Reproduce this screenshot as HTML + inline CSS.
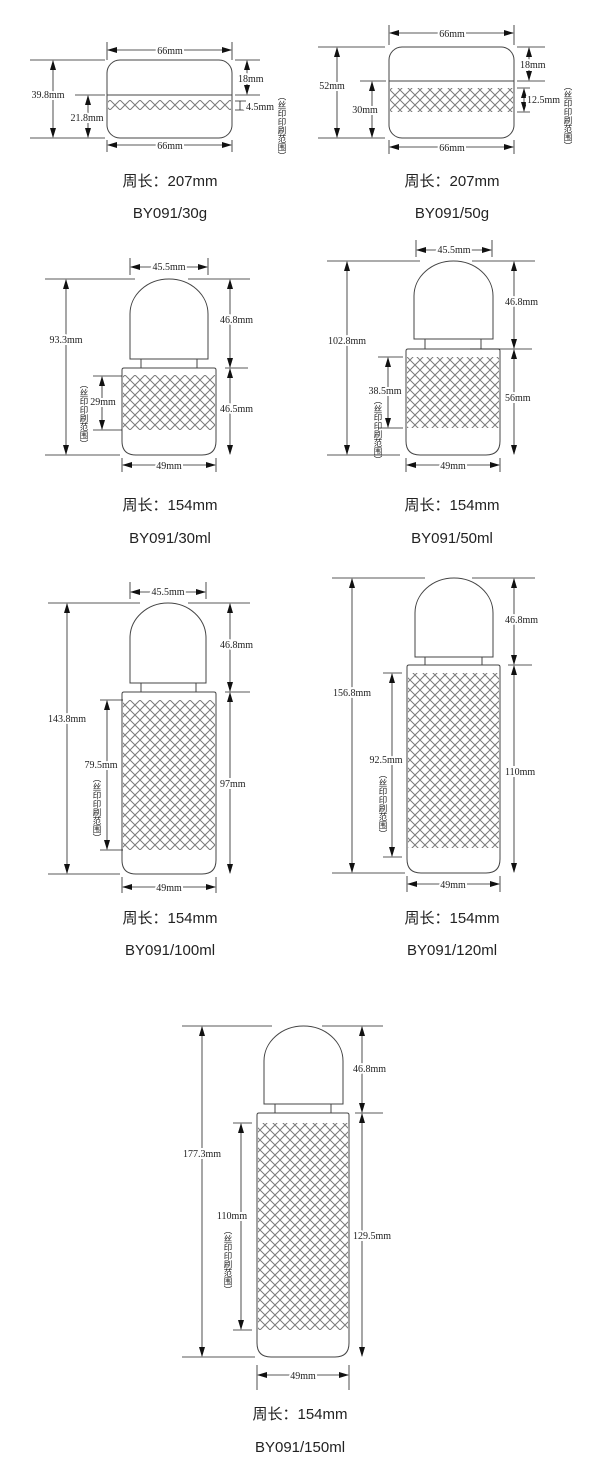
<!DOCTYPE html>
<html><head><meta charset="utf-8"><style>
html,body{margin:0;padding:0;background:#fff}
svg{display:block}
.d{font-family:"Liberation Serif","Noto Serif CJK SC",serif;font-size:10px;fill:#222;stroke:#fff;stroke-width:4px;paint-order:stroke;}
.v{font-family:"Noto Sans CJK SC",sans-serif;font-size:8.5px;fill:#222;writing-mode:vertical-rl;text-orientation:upright}
.t{font-family:"Liberation Sans","Noto Sans CJK SC",sans-serif;font-size:15px;fill:#222;text-anchor:middle}
.l{stroke:#222;stroke-width:0.8;fill:none}
.s{stroke:#444;stroke-width:1;fill:none}
</style></head><body>
<svg width="600" height="1474" viewBox="0 0 600 1474" xmlns="http://www.w3.org/2000/svg">
<defs>
<marker id="a" markerUnits="userSpaceOnUse" markerWidth="10" markerHeight="8" refX="9" refY="3" orient="auto-start-reverse" viewBox="0 0 10 6"><path d="M0,0 L10,3 L0,6 Z" fill="#111"/></marker>
<pattern id="h" patternUnits="userSpaceOnUse" width="10" height="10"><path d="M0,0 L10,10 M10,0 L0,10" stroke="#7a7a7a" stroke-width="1"/></pattern>
</defs>

<!-- ===== 30g ===== -->
<g>
<rect x="107" y="60" width="125" height="78" rx="13" class="s"/>
<line x1="107" y1="95" x2="232" y2="95" class="s"/>
<rect x="108" y="100" width="123" height="10" fill="url(#h)"/>
<path class="l" d="M107,42V60 M232,42V60 M107,140V152 M232,140V152 M30,60H105 M30,138H105 M75,95H105 M235,60H260 M235,95H260 M235,101H246 M235,110H246 M240,101V110"/>
<line x1="108" y1="50" x2="231" y2="50" class="l" marker-start="url(#a)" marker-end="url(#a)"/>
<line x1="108" y1="145" x2="231" y2="145" class="l" marker-start="url(#a)" marker-end="url(#a)"/>
<line x1="53" y1="61" x2="53" y2="137" class="l" marker-start="url(#a)" marker-end="url(#a)"/>
<line x1="88" y1="96" x2="88" y2="137" class="l" marker-start="url(#a)" marker-end="url(#a)"/>
<line x1="247" y1="61" x2="247" y2="94" class="l" marker-start="url(#a)" marker-end="url(#a)"/>
<text class="d" x="170" y="54" text-anchor="middle">66mm</text>
<text class="d" x="170" y="149" text-anchor="middle">66mm</text>
<text class="d" x="48" y="98" text-anchor="middle">39.8mm</text>
<text class="d" x="87" y="121" text-anchor="middle">21.8mm</text>
<text class="d" x="238" y="82">18mm</text>
<text class="d" x="246" y="110">4.5mm</text>
<text class="v" x="282" y="92">（丝印印刷范围）</text>
<text class="t" x="170" y="186">周长：207mm</text>
<text class="t" x="170" y="218">BY091/30g</text>
</g>

<!-- ===== 50g ===== -->
<g>
<rect x="389" y="47" width="125" height="91" rx="13" class="s"/>
<line x1="389" y1="81" x2="514" y2="81" class="s"/>
<rect x="390" y="88" width="123" height="24" fill="url(#h)"/>
<path class="l" d="M389,25V45 M514,25V45 M389,140V154 M514,140V154 M318,47H385 M318,138H385 M360,81H386 M517,47H545 M517,81H545 M517,88H530 M517,112H530"/>
<line x1="390" y1="33" x2="513" y2="33" class="l" marker-start="url(#a)" marker-end="url(#a)"/>
<line x1="390" y1="147" x2="513" y2="147" class="l" marker-start="url(#a)" marker-end="url(#a)"/>
<line x1="337" y1="48" x2="337" y2="137" class="l" marker-start="url(#a)" marker-end="url(#a)"/>
<line x1="372" y1="82" x2="372" y2="137" class="l" marker-start="url(#a)" marker-end="url(#a)"/>
<line x1="529" y1="48" x2="529" y2="80" class="l" marker-start="url(#a)" marker-end="url(#a)"/>
<line x1="524" y1="89" x2="524" y2="111" class="l" marker-start="url(#a)" marker-end="url(#a)"/>
<text class="d" x="452" y="37" text-anchor="middle">66mm</text>
<text class="d" x="452" y="151" text-anchor="middle">66mm</text>
<text class="d" x="332" y="89" text-anchor="middle">52mm</text>
<text class="d" x="365" y="113" text-anchor="middle">30mm</text>
<text class="d" x="520" y="68">18mm</text>
<text class="d" x="527" y="103">12.5mm</text>
<text class="v" x="568" y="82">（丝印印刷范围）</text>
<text class="t" x="452" y="186">周长：207mm</text>
<text class="t" x="452" y="218">BY091/50g</text>
</g>

<!-- ===== 30ml ===== -->
<g>
<path class="s" d="M130,359V314A39,35 0 0 1 208,314V359Z"/>
<rect x="141" y="359" width="56" height="9" class="s"/>
<rect x="123" y="375" width="92" height="55" fill="url(#h)"/>
<path class="s" d="M124,368H214Q216,368 216,370V441Q216,455 202,455H136Q122,455 122,441V370Q122,368 124,368Z"/>
<path class="l" d="M130,258V275 M208,258V275 M45,279H135 M45,455H120 M188,279H250 M225,368H248 M93,376H122 M93,430H122 M122,458V472 M216,458V472"/>
<line x1="131" y1="267" x2="207" y2="267" class="l" marker-start="url(#a)" marker-end="url(#a)"/>
<line x1="66" y1="280" x2="66" y2="454" class="l" marker-start="url(#a)" marker-end="url(#a)"/>
<line x1="230" y1="280" x2="230" y2="367" class="l" marker-start="url(#a)" marker-end="url(#a)"/>
<line x1="230" y1="369" x2="230" y2="454" class="l" marker-start="url(#a)" marker-end="url(#a)"/>
<line x1="102" y1="377" x2="102" y2="429" class="l" marker-start="url(#a)" marker-end="url(#a)"/>
<line x1="123" y1="465" x2="215" y2="465" class="l" marker-start="url(#a)" marker-end="url(#a)"/>
<text class="d" x="169" y="270" text-anchor="middle">45.5mm</text>
<text class="d" x="66" y="343" text-anchor="middle">93.3mm</text>
<text class="d" x="220" y="323">46.8mm</text>
<text class="d" x="220" y="412">46.5mm</text>
<text class="d" x="103" y="405" text-anchor="middle">29mm</text>
<text class="d" x="169" y="469" text-anchor="middle">49mm</text>
<text class="v" x="84" y="380">（丝印印刷范围）</text>
<text class="t" x="170" y="510">周长：154mm</text>
<text class="t" x="170" y="543">BY091/30ml</text>
</g>

<!-- ===== 50ml ===== -->
<g>
<path class="s" d="M414,339V296A39.5,35 0 0 1 493,296V339Z"/>
<rect x="425" y="339" width="56" height="10" class="s"/>
<rect x="407" y="357" width="92" height="71" fill="url(#h)"/>
<path class="s" d="M408,349H498Q500,349 500,351V441Q500,455 486,455H420Q406,455 406,441V351Q406,349 408,349Z"/>
<path class="l" d="M416,240V257 M492,240V257 M327,261H420 M327,455H400 M472,261H535 M470,349H532 M378,357H403 M378,428H403 M406,458V472 M500,458V472"/>
<line x1="417" y1="250" x2="491" y2="250" class="l" marker-start="url(#a)" marker-end="url(#a)"/>
<line x1="347" y1="262" x2="347" y2="454" class="l" marker-start="url(#a)" marker-end="url(#a)"/>
<line x1="514" y1="262" x2="514" y2="348" class="l" marker-start="url(#a)" marker-end="url(#a)"/>
<line x1="514" y1="350" x2="514" y2="454" class="l" marker-start="url(#a)" marker-end="url(#a)"/>
<line x1="388" y1="358" x2="388" y2="427" class="l" marker-start="url(#a)" marker-end="url(#a)"/>
<line x1="407" y1="465" x2="499" y2="465" class="l" marker-start="url(#a)" marker-end="url(#a)"/>
<text class="d" x="454" y="253" text-anchor="middle">45.5mm</text>
<text class="d" x="347" y="344" text-anchor="middle">102.8mm</text>
<text class="d" x="505" y="305">46.8mm</text>
<text class="d" x="505" y="401">56mm</text>
<text class="d" x="385" y="394" text-anchor="middle">38.5mm</text>
<text class="d" x="453" y="469" text-anchor="middle">49mm</text>
<text class="v" x="378" y="396">（丝印印刷范围）</text>
<text class="t" x="452" y="510">周长：154mm</text>
<text class="t" x="452" y="543">BY091/50ml</text>
</g>

<!-- ===== 100ml ===== -->
<g>
<path class="s" d="M130,683V638A38,35 0 0 1 206,638V683Z"/>
<rect x="141" y="683" width="55" height="9" class="s"/>
<rect x="123" y="700" width="92" height="150" fill="url(#h)"/>
<path class="s" d="M124,692H214Q216,692 216,694V860Q216,874 202,874H136Q122,874 122,860V694Q122,692 124,692Z"/>
<path class="l" d="M130,582V599 M206,582V599 M48,603H140 M48,874H120 M188,603H250 M225,692H250 M100,700H123 M100,850H123 M122,877V893 M216,877V893"/>
<line x1="131" y1="592" x2="205" y2="592" class="l" marker-start="url(#a)" marker-end="url(#a)"/>
<line x1="67" y1="604" x2="67" y2="873" class="l" marker-start="url(#a)" marker-end="url(#a)"/>
<line x1="230" y1="604" x2="230" y2="691" class="l" marker-start="url(#a)" marker-end="url(#a)"/>
<line x1="230" y1="693" x2="230" y2="873" class="l" marker-start="url(#a)" marker-end="url(#a)"/>
<line x1="107" y1="701" x2="107" y2="849" class="l" marker-start="url(#a)" marker-end="url(#a)"/>
<line x1="123" y1="887" x2="215" y2="887" class="l" marker-start="url(#a)" marker-end="url(#a)"/>
<text class="d" x="168" y="595" text-anchor="middle">45.5mm</text>
<text class="d" x="67" y="722" text-anchor="middle">143.8mm</text>
<text class="d" x="220" y="648">46.8mm</text>
<text class="d" x="220" y="787">97mm</text>
<text class="d" x="101" y="768" text-anchor="middle">79.5mm</text>
<text class="d" x="169" y="891" text-anchor="middle">49mm</text>
<text class="v" x="97" y="774">（丝印印刷范围）</text>
<text class="t" x="170" y="923">周长：154mm</text>
<text class="t" x="170" y="955">BY091/100ml</text>
</g>

<!-- ===== 120ml ===== -->
<g>
<path class="s" d="M415,657V613A39,35 0 0 1 493,613V657Z"/>
<rect x="425" y="657" width="57" height="8" class="s"/>
<rect x="408" y="673" width="91" height="175" fill="url(#h)"/>
<path class="s" d="M409,665H498Q500,665 500,667V859Q500,873 486,873H421Q407,873 407,859V667Q407,665 409,665Z"/>
<path class="l" d="M332,578H425 M332,873H405 M472,578H535 M508,665H532 M383,673H402 M383,857H402 M407,876V892 M500,876V892"/>
<line x1="352" y1="579" x2="352" y2="872" class="l" marker-start="url(#a)" marker-end="url(#a)"/>
<line x1="514" y1="579" x2="514" y2="664" class="l" marker-start="url(#a)" marker-end="url(#a)"/>
<line x1="514" y1="666" x2="514" y2="872" class="l" marker-start="url(#a)" marker-end="url(#a)"/>
<line x1="392" y1="674" x2="392" y2="856" class="l" marker-start="url(#a)" marker-end="url(#a)"/>
<line x1="408" y1="884" x2="499" y2="884" class="l" marker-start="url(#a)" marker-end="url(#a)"/>
<text class="d" x="352" y="696" text-anchor="middle">156.8mm</text>
<text class="d" x="505" y="623">46.8mm</text>
<text class="d" x="505" y="775">110mm</text>
<text class="d" x="386" y="763" text-anchor="middle">92.5mm</text>
<text class="d" x="453" y="888" text-anchor="middle">49mm</text>
<text class="v" x="383" y="770">（丝印印刷范围）</text>
<text class="t" x="452" y="923">周长：154mm</text>
<text class="t" x="452" y="955">BY091/120ml</text>
</g>

<!-- ===== 150ml ===== -->
<g>
<path class="s" d="M264,1104V1061A39.5,35 0 0 1 343,1061V1104Z"/>
<rect x="275" y="1104" width="56" height="9" class="s"/>
<rect x="258" y="1123" width="90" height="207" fill="url(#h)"/>
<path class="s" d="M259,1113H347Q349,1113 349,1115V1343Q349,1357 335,1357H271Q257,1357 257,1343V1115Q257,1113 259,1113Z"/>
<path class="l" d="M182,1026H272 M182,1357H255 M322,1026H383 M355,1113H383 M233,1123H252 M233,1330H252 M257,1365V1390 M349,1365V1390"/>
<line x1="202" y1="1027" x2="202" y2="1356" class="l" marker-start="url(#a)" marker-end="url(#a)"/>
<line x1="362" y1="1027" x2="362" y2="1112" class="l" marker-start="url(#a)" marker-end="url(#a)"/>
<line x1="362" y1="1114" x2="362" y2="1356" class="l" marker-start="url(#a)" marker-end="url(#a)"/>
<line x1="241" y1="1124" x2="241" y2="1329" class="l" marker-start="url(#a)" marker-end="url(#a)"/>
<line x1="258" y1="1375" x2="348" y2="1375" class="l" marker-start="url(#a)" marker-end="url(#a)"/>
<text class="d" x="202" y="1157" text-anchor="middle">177.3mm</text>
<text class="d" x="353" y="1072">46.8mm</text>
<text class="d" x="353" y="1239">129.5mm</text>
<text class="d" x="232" y="1219" text-anchor="middle">110mm</text>
<text class="d" x="303" y="1379" text-anchor="middle">49mm</text>
<text class="v" x="228" y="1226">（丝印印刷范围）</text>
<text class="t" x="300" y="1419">周长：154mm</text>
<text class="t" x="300" y="1452">BY091/150ml</text>
</g>
</svg>
</body></html>
